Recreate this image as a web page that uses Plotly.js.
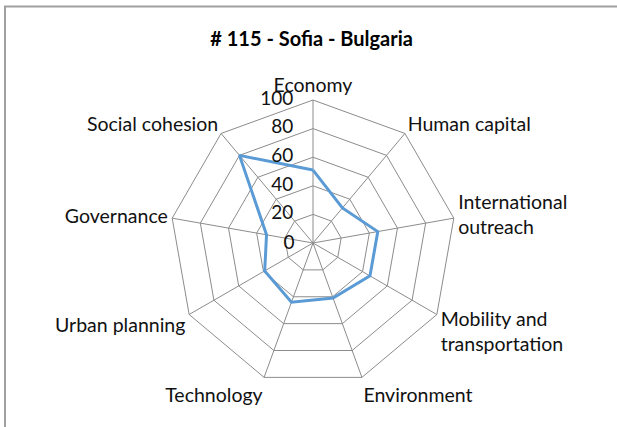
<!DOCTYPE html>
<html>
<head>
<meta charset="utf-8">
<script src="https://cdn.plot.ly/plotly-3.0.1.min.js"></script>
<style>
  html, body { margin: 0; padding: 0; background: #fff; }
  #chart { width: 617px; height: 427px; }
</style>
</head>
<body>
<div id="chart"></div>
<script>
// Sofia scores per dimension
var categories = ["Economy", "Human capital", "International<br>outreach",
  "Mobility and<br>transportation", "Environment", "Technology",
  "Urban planning", "Governance", "Social cohesion"];
var scores = [51, 32, 46, 46, 41, 44, 39, 33, 80];
var radialTicks = [0, 20, 40, 60, 80, 100];

var gridColor = "#8c8c8c";

// the centre label comes from the radial axis itself, the rest from a text trace
var outerTicks = radialTicks.slice(1);
var axisText = radialTicks.map(function (v, i) {
  return i === 0 ? String(v) + "\u2007\u2008" : "";
});

var data = [{
  type: "scatterpolar",
  r: scores.concat([scores[0]]),
  theta: categories.concat([categories[0]]),
  mode: "lines",
  line: { color: "#5b9bd5", width: 3 },
  hoverinfo: "skip"
}, {
  // radial tick labels, right-aligned just left of the Economy spoke
  type: "scatterpolar",
  r: outerTicks,
  theta: outerTicks.map(function () { return categories[0]; }),
  text: outerTicks.map(String),
  mode: "markers+text",
  marker: { size: 30, opacity: 0 },
  textposition: "middle left",
  textfont: { size: 19, color: "#111" },
  cliponaxis: false,
  hoverinfo: "skip"
}];

var layout = {
  width: 617,
  height: 427,
  margin: { l: 0, r: 0, t: 0, b: 0 },
  paper_bgcolor: "#fff",
  showlegend: false,
  font: { family: "Lato, 'Liberation Sans', sans-serif", size: 19.5, color: "#111" },
  title: {
    text: "<b># 115 - Sofia - Bulgaria</b>",
    x: 0.505, xanchor: "center",
    y: 0.908, yanchor: "middle",
    font: { size: 20, color: "#000" }
  },
  polar: {
    domain: { x: [170 / 617, 456 / 617], y: [41 / 427, 327 / 427] },
    gridshape: "linear",
    bgcolor: "#fff",
    angularaxis: {
      rotation: 90,
      direction: "clockwise",
      gridcolor: gridColor,
      linecolor: gridColor,
      linewidth: 1,
      ticks: "",
      tickfont: { size: 19.5 }
    },
    radialaxis: {
      range: [0, 100],
      tickvals: radialTicks,
      ticktext: axisText,
      angle: 90,
      tickangle: 90,
      side: "counterclockwise",
      showline: false,
      gridcolor: gridColor,
      ticks: "",
      tickfont: { size: 19, color: "#111" }
    }
  },
  shapes: [{
    type: "rect", xref: "paper", yref: "paper",
    x0: 5 / 617, x1: 1.05, y0: -0.05, y1: 1 - 6.5 / 427,
    line: { color: "#a0a0a0", width: 2 }
  }]
};

Plotly.newPlot("chart", data, layout, { displayModeBar: false, staticPlot: true });
</script>
</body>
</html>
